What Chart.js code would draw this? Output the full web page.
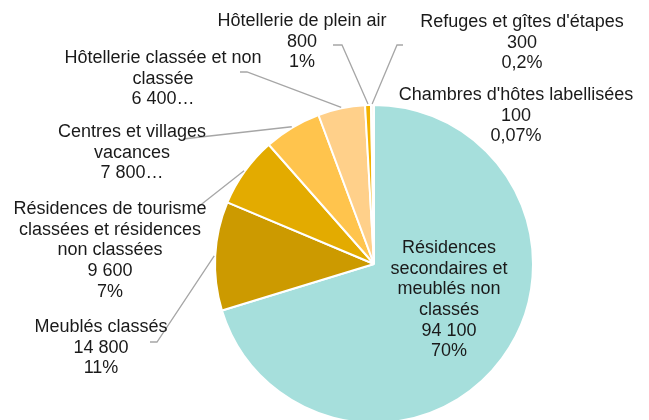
<!DOCTYPE html>
<html>
<head>
<meta charset="utf-8">
<script src="https://cdn.jsdelivr.net/npm/chart.js@4/dist/chart.umd.min.js"></script>
<style>
  html, body { margin: 0; padding: 0; background: #fff; overflow: hidden; }
  #wrap { width: 649px; height: 440px; }
</style>
</head>
<body>
<div id="wrap"><canvas id="myChart" width="649" height="440"></canvas></div>
<script>
// categories, in drawing order (clockwise from 12 o'clock)
const categories = [
  ['Résidences', 'secondaires et', 'meublés non', 'classés'],
  ['Meublés classés'],
  ['Résidences de tourisme', 'classées et résidences', 'non classées'],
  ['Centres et villages', 'vacances'],
  ['Hôtellerie classée et non', 'classée'],
  ['Hôtellerie de plein air'],
  ['Refuges et gîtes d\'étapes'],
  ['Chambres d\'hôtes labellisées']
];
const values = [94100, 14800, 9600, 7800, 6400, 800, 300, 100];
// decimals for the percentage line, null = label cut off by "…"
const pctDecimals = [0, 0, 0, null, null, 0, 1, 2];

const colors = ['#a6dfdc', '#cc9a00', '#e3ab00', '#ffc44d', '#ffd08a', '#f2b200', '#ecb300', '#ffd966'];

// label block centres (x, y of first line) and leader elbows
const labelPos = [[449, 248], [101, 327], [110, 209], [132, 132], [163, 58], [302, 21], [522, 22], [516, 95]];
const leaders = [
  null,
  [[150, 342], [157, 342]],
  [[198, 207]],
  [[183, 139]],
  [[240, 72], [247, 72]],
  [[333, 45], [342, 45]],
  [[403, 45], [397, 45]],
  null
];

const total = values.reduce((a, b) => a + b, 0);

function fmtNum(v) {
  return String(v).replace(/\B(?=(\d{3})+(?!\d))/g, ' ');
}

function labelLines(i) {
  const lines = categories[i].slice();
  if (pctDecimals[i] === null) {
    lines.push(fmtNum(values[i]) + '…');
  } else {
    lines.push(fmtNum(values[i]));
    lines.push((values[i] / total * 100).toFixed(pctDecimals[i]).replace('.', ',') + '%');
  }
  return lines;
}

const outsideLabels = {
  id: 'outsideLabels',
  afterDatasetsDraw(chart) {
    const ctx = chart.ctx;
    const meta = chart.getDatasetMeta(0);
    ctx.save();
    // leader lines
    ctx.strokeStyle = '#a6a6a6';
    ctx.lineWidth = 1.3;
    meta.data.forEach((arc, i) => {
      if (!leaders[i]) return;
      const p = arc.getProps(['x', 'y', 'startAngle', 'endAngle', 'outerRadius'], true);
      const mid = (p.startAngle + p.endAngle) / 2;
      const ex = p.x + Math.cos(mid) * (p.outerRadius + 1);
      const ey = p.y + Math.sin(mid) * (p.outerRadius + 1);
      ctx.beginPath();
      ctx.moveTo(leaders[i][0][0], leaders[i][0][1]);
      for (let k = 1; k < leaders[i].length; k++) ctx.lineTo(leaders[i][k][0], leaders[i][k][1]);
      ctx.lineTo(ex, ey);
      ctx.stroke();
    });
    // text
    ctx.fillStyle = '#1a1a1a';
    ctx.font = '18px "Liberation Sans", Arial, sans-serif';
    ctx.textAlign = 'center';
    ctx.textBaseline = 'middle';
    for (let i = 0; i < values.length; i++) {
      const lines = labelLines(i);
      lines.forEach((t, k) => {
        ctx.fillText(t, labelPos[i][0], labelPos[i][1] + k * 20.7);
      });
    }
    ctx.restore();
  }
};

const ctx = document.getElementById('myChart').getContext('2d');
const myChart = new Chart(ctx, {
  type: 'pie',
  data: {
    labels: categories.map(c => c.join(' ')),
    datasets: [{
      data: values,
      backgroundColor: colors,
      borderColor: '#ffffff',
      borderWidth: 2,
      radius: 159
    }]
  },
  options: {
    responsive: false,
    devicePixelRatio: 1,
    animation: false,
    layout: { padding: { left: 215, right: 116, top: 105, bottom: 17 } },
    plugins: {
      legend: { display: false },
      tooltip: { enabled: false }
    }
  },
  plugins: [outsideLabels]
});
</script>
</body>
</html>
